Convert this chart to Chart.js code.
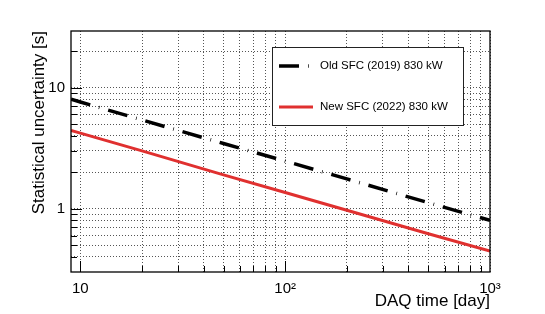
<!DOCTYPE html>
<html>
<head>
<meta charset="utf-8">
<script src="https://cdn.jsdelivr.net/npm/chart.js@4.4.1/dist/chart.umd.min.js"></script>
<style>
  html, body { margin: 0; padding: 0; background: #fff; }
  canvas { display: block; }
</style>
</head>
<body>
<canvas id="c" width="545" height="314"></canvas>
<script>
// ---- data ----
const days    = [9, 10, 20, 50, 100, 200, 500, 1000];
const oldSFC  = [8.0, 7.6, 5.4, 3.45, 2.47, 1.76, 1.12, 0.80];
const newSFC  = [4.43, 4.2, 3.0, 1.9, 1.36, 0.97, 0.62, 0.446];
const seriesLabels = ['Old SFC (2019) 830 kW', 'New SFC (2022) 830 kW'];

const xTickValues = [10,20,30,40,50,60,70,80,90,100,200,300,400,500,600,700,800,900];
const xMajorTicks = [10, 100, 1000];
const xTickLabels = {10: '10', 100: '10²', 1000: '10³'};
const yTickValues = [0.4,0.5,0.6,0.7,0.8,0.9,1,2,3,4,5,6,7,8,9,10,20];
const yMajorTicks = [1, 10];
const yTickLabels = {1: '1', 10: '10'};

const xTitle = 'DAQ time [day]';
const yTitle = 'Statistical uncertainty [s]';

const FONT = "'Liberation Sans', Arial, Helvetica, sans-serif";

const toXY = (ys) => days.map((d, i) => ({x: d, y: ys[i]}));

const framePlugin = {
  id: 'frame',
  afterDatasetsDraw(chart) {
    const {ctx, chartArea: a, scales} = chart;
    ctx.save();
    // inward ticks
    ctx.strokeStyle = '#000';
    ctx.lineWidth = 1;
    yTickValues.forEach(v => {
      const p = Math.round(scales.y.getPixelForValue(v)) + 0.5;
      if (p < a.top || p > a.bottom) return;
      const len = yMajorTicks.includes(v) ? 11 : 6;
      ctx.beginPath(); ctx.moveTo(a.left, p); ctx.lineTo(a.left + len, p); ctx.stroke();
    });
    xTickValues.forEach(v => {
      const p = Math.round(scales.x.getPixelForValue(v)) + 0.5;
      if (p < a.left || p > a.right) return;
      const len = xMajorTicks.includes(v) ? 11 : 6;
      ctx.beginPath(); ctx.moveTo(p, a.bottom); ctx.lineTo(p, a.bottom - len); ctx.stroke();
    });
    // frame
    ctx.lineWidth = 1.3;
    ctx.strokeStyle = '#000';
    ctx.strokeRect(a.left, a.top, a.right - a.left, a.bottom - a.top);

    // legend box
    const bx = 272.5, by = 47.5, bw = 191, bh = 78;
    ctx.fillStyle = '#fff';
    ctx.fillRect(bx, by, bw, bh);
    ctx.lineWidth = 1;
    ctx.strokeStyle = '#222';
    ctx.strokeRect(bx, by, bw, bh);
    const rows = [66, 107];
    chart.data.datasets.forEach((ds, i) => {
      const y = rows[i];
      ctx.save();
      ctx.strokeStyle = ds.borderColor;
      ctx.lineWidth = ds.borderWidth;
      ctx.setLineDash(ds.borderDash || []);
      ctx.lineCap = 'butt';
      ctx.beginPath(); ctx.moveTo(279, y); ctx.lineTo(313, y); ctx.stroke();
      ctx.restore();
      ctx.fillStyle = '#000';
      ctx.font = '11.5px ' + FONT;
      ctx.textAlign = 'left';
      ctx.textBaseline = 'middle';
      ctx.fillText(ds.label, 320, y);
    });
    ctx.restore();
  }
};

new Chart(document.getElementById('c'), {
  type: 'line',
  data: {
    datasets: [
      {
        label: seriesLabels[0],
        data: toXY(oldSFC),
        borderColor: '#000',
        borderWidth: 3.5,
        borderDash: [20, 9, 0.7, 9],
        borderCapStyle: 'butt',
        pointRadius: 0,
        tension: 0,
        fill: false
      },
      {
        label: seriesLabels[1],
        data: toXY(newSFC),
        borderColor: '#e0302f',
        borderWidth: 3,
        pointRadius: 0,
        tension: 0,
        fill: false
      }
    ]
  },
  options: {
    responsive: false,
    animation: false,
    layout: { padding: { top: 31, right: 55, left: 0, bottom: 0 } },
    plugins: { legend: { display: false }, tooltip: { enabled: false } },
    scales: {
      x: {
        type: 'logarithmic',
        min: 9,
        max: 1000,
        afterFit: (s) => { s.height = 42; },
        afterBuildTicks: (s) => { s.ticks = xTickValues.concat([1000]).map(v => ({value: v})); },
        grid: { color: '#555', lineWidth: 1, drawTicks: false },
        border: { display: false, dash: [1, 2] },
        ticks: {
          autoSkip: false,
          maxRotation: 0,
          padding: 8,
          color: '#000',
          font: { family: FONT, size: 15 },
          callback: (v) => xTickLabels[v] || ''
        },
        title: {
          display: true,
          text: xTitle,
          align: 'end',
          color: '#000',
          font: { family: FONT, size: 17 },
          padding: { top: 0, bottom: 2 }
        }
      },
      y: {
        type: 'logarithmic',
        min: 0.318,
        max: 29.3,
        afterFit: (s) => { s.width = 71; },
        afterBuildTicks: (s) => { s.ticks = yTickValues.map(v => ({value: v})); },
        grid: { color: '#555', lineWidth: 1, drawTicks: false },
        border: { display: false, dash: [1, 2] },
        ticks: {
          autoSkip: false,
          padding: 6,
          color: '#000',
          font: { family: FONT, size: 15 },
          callback: (v) => yTickLabels[v] || ''
        },
        title: {
          display: true,
          text: yTitle,
          align: 'end',
          color: '#000',
          font: { family: FONT, size: 17 },
          padding: { top: 29, bottom: 0 }
        }
      }
    }
  },
  plugins: [framePlugin]
});
</script>
</body>
</html>
